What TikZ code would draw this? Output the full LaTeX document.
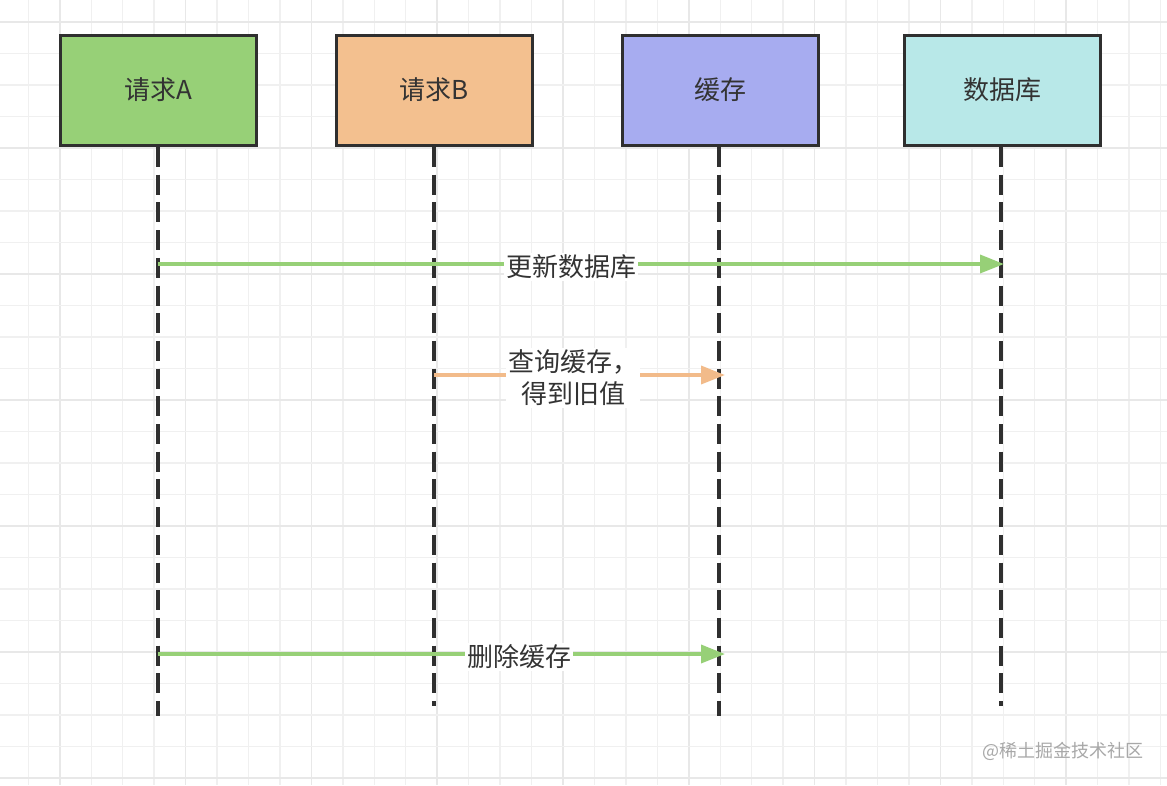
\documentclass[tikz,border=0pt]{standalone}
\usepackage{fontspec}
\usetikzlibrary{arrows.meta}
\newfontfamily\cjk{Noto Sans CJK SC}
\definecolor{gridminor}{HTML}{F0F0F0}
\definecolor{gridmajor}{HTML}{E8E8E8}
\definecolor{boxline}{HTML}{2F2F2F}
\definecolor{fillA}{HTML}{97D077}
\definecolor{fillB}{HTML}{F3C08F}
\definecolor{fillC}{HTML}{A7ACF0}
\definecolor{fillD}{HTML}{B8E8E8}
\definecolor{arrgreen}{HTML}{97D077}
\definecolor{arrorange}{HTML}{F2BB8A}
\definecolor{txt}{HTML}{333333}
\definecolor{wm}{HTML}{A8A8A8}
\begin{document}
\begin{tikzpicture}[x=1pt,y=-1pt,
  actor/.style={draw=boxline,line width=3pt,minimum width=196pt,minimum height=110pt,
    inner sep=0pt,font=\cjk\fontsize{26}{30}\selectfont,text=txt},
  lifeline/.style={draw=boxline,line width=3.5pt,dash pattern=on 20pt off 7.7pt},
  msg/.style={line width=3.5pt,-{Triangle[length=24pt,width=18pt]}},
  msglabel/.style={fill=white,inner sep=2pt,font=\cjk\fontsize{26}{32}\selectfont,text=txt,align=center}
]
\useasboundingbox (0,0) rectangle (1167,785);
\fill[white] (0,0) rectangle (1167,785);
% grid
\foreach \k in {0,...,36}{
  \pgfmathtruncatemacro{\m}{mod(\k,4)}
  \ifnum\m=1
    \draw[gridmajor,line width=1.6pt] ({28.3+31.45*\k},0) -- ({28.3+31.45*\k},785);
  \else
    \draw[gridminor,line width=1.4pt] ({28.3+31.45*\k},0) -- ({28.3+31.45*\k},785);
  \fi
}
\foreach \k in {0,...,24}{
  \pgfmathtruncatemacro{\m}{mod(\k,4)}
  \ifnum\m=0
    \draw[gridmajor,line width=1.6pt] (0,{22+31.5*\k}) -- (1167,{22+31.5*\k});
  \else
    \draw[gridminor,line width=1.4pt] (0,{22+31.5*\k}) -- (1167,{22+31.5*\k});
  \fi
}
% actors
\node[actor,fill=fillA] (A) at (158,90) {请求A};
\node[actor,fill=fillB] (B) at (434.5,90) {请求B};
\node[actor,fill=fillC] (C) at (720.5,90) {缓存};
\node[actor,fill=fillD] (D) at (1002,90) {数据库};
% lifeline ends
\coordinate (Aend) at (158,716);
\coordinate (Bend) at (434,706);
\coordinate (Cend) at (719,716);
\coordinate (Dend) at (1001,706);
\coordinate (Atop) at (158,147);
\coordinate (Btop) at (434,147);
\coordinate (Ctop) at (719,147);
\coordinate (Dtop) at (1001,147);
\draw[lifeline] (Atop) -- (Aend);
\draw[lifeline] (Btop) -- (Bend);
\draw[lifeline] (Ctop) -- (Cend);
\draw[lifeline] (Dtop) -- (Dend);
% messages
\coordinate (m1s) at (158,264);
\coordinate (m1e) at (1004,264);
\coordinate (m2s) at (434,375);
\coordinate (m2e) at (725,375);
\coordinate (m3s) at (158,654);
\coordinate (m3e) at (725,654);
\draw[msg,arrgreen] (m1s) -- (m1e);
\draw[msg,arrorange] (m2s) -- (m2e);
\draw[msg,arrgreen] (m3s) -- (m3e);
\node[msglabel] (l1) at (571,267) {更新数据库};
\node[msglabel] (l2) at (573,378) {查询缓存，\\得到旧值};
\node[msglabel] (l3) at (519,657) {删除缓存};
% redraw boxes on top
\node[actor,fill=fillA] at (A) {请求A};
\node[actor,fill=fillB] at (B) {请求B};
\node[actor,fill=fillC] at (C) {缓存};
\node[actor,fill=fillD] at (D) {数据库};
% watermark
\node[font=\cjk\fontsize{18}{20}\selectfont,text=wm,anchor=east,inner sep=0pt] (wmk) at (1144,751) {@稀土掘金技术社区};
\end{tikzpicture}
\end{document}
